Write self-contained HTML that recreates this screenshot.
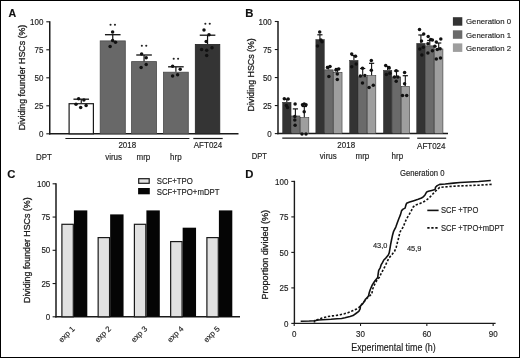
<!DOCTYPE html>
<html><head><meta charset="utf-8"><style>
html,body{margin:0;padding:0;background:#fff;}
body{width:520px;height:358px;overflow:hidden;}
svg{display:block;font-family:"Liberation Sans", sans-serif;filter:grayscale(1);}
</style></head><body>
<svg width="520" height="358" viewBox="0 0 520 358">
<rect x="0" y="0" width="520" height="358" fill="#fff"/>
<text transform="translate(8.60,17.00) scale(1,1.0)" font-size="10.6" text-anchor="start" font-weight="bold" fill="#111" stroke="#111" stroke-width="0.15" >A</text>
<line x1="49.75" y1="21.20" x2="49.75" y2="134.40" stroke="#1a1a1a" stroke-width="1.5" />
<line x1="49.00" y1="133.80" x2="238.50" y2="133.80" stroke="#1a1a1a" stroke-width="1.5" />
<line x1="46.30" y1="133.80" x2="49.75" y2="133.80" stroke="#1a1a1a" stroke-width="1.1" />
<text transform="translate(43.40,136.90) scale(1,1.08)" font-size="8" text-anchor="end" font-weight="normal" fill="#1e1e1e" stroke="#1e1e1e" stroke-width="0.15" >0</text>
<line x1="46.30" y1="105.80" x2="49.75" y2="105.80" stroke="#1a1a1a" stroke-width="1.1" />
<text transform="translate(43.40,108.90) scale(1,1.08)" font-size="8" text-anchor="end" font-weight="normal" fill="#1e1e1e" stroke="#1e1e1e" stroke-width="0.15" >25</text>
<line x1="46.30" y1="77.80" x2="49.75" y2="77.80" stroke="#1a1a1a" stroke-width="1.1" />
<text transform="translate(43.40,80.90) scale(1,1.08)" font-size="8" text-anchor="end" font-weight="normal" fill="#1e1e1e" stroke="#1e1e1e" stroke-width="0.15" >50</text>
<line x1="46.30" y1="49.80" x2="49.75" y2="49.80" stroke="#1a1a1a" stroke-width="1.1" />
<text transform="translate(43.40,52.90) scale(1,1.08)" font-size="8" text-anchor="end" font-weight="normal" fill="#1e1e1e" stroke="#1e1e1e" stroke-width="0.15" >75</text>
<line x1="46.30" y1="21.80" x2="49.75" y2="21.80" stroke="#1a1a1a" stroke-width="1.1" />
<text transform="translate(43.40,24.90) scale(1,1.08)" font-size="8" text-anchor="end" font-weight="normal" fill="#1e1e1e" stroke="#1e1e1e" stroke-width="0.15" >100</text>
<text transform="translate(24.60,77.50) scale(1,1.08) rotate(-90)" font-size="8.2" text-anchor="middle" font-weight="normal" fill="#1e1e1e" stroke="#1e1e1e" stroke-width="0.3" >Dividing founder HSCs (%)</text>
<rect x="69.10" y="103.70" width="24.30" height="30.10" fill="#ffffff" stroke="#1a1a1a" stroke-width="1.2"/>
<line x1="81.25" y1="103.10" x2="81.25" y2="99.20" stroke="#111" stroke-width="1.2" />
<line x1="73.45" y1="99.20" x2="89.05" y2="99.20" stroke="#111" stroke-width="1.3" />
<rect x="100.20" y="40.90" width="25.10" height="92.90" fill="#686868" stroke="#4a4a4a" stroke-width="0.8"/>
<line x1="112.75" y1="40.50" x2="112.75" y2="34.70" stroke="#111" stroke-width="1.2" />
<line x1="104.95" y1="34.70" x2="120.55" y2="34.70" stroke="#111" stroke-width="1.3" />
<rect x="131.60" y="61.60" width="24.90" height="72.20" fill="#686868" stroke="#4a4a4a" stroke-width="0.8"/>
<line x1="144.05" y1="61.20" x2="144.05" y2="55.00" stroke="#111" stroke-width="1.2" />
<line x1="136.25" y1="55.00" x2="151.85" y2="55.00" stroke="#111" stroke-width="1.3" />
<rect x="163.50" y="72.20" width="24.80" height="61.60" fill="#686868" stroke="#4a4a4a" stroke-width="0.8"/>
<line x1="175.90" y1="71.80" x2="175.90" y2="66.80" stroke="#111" stroke-width="1.2" />
<line x1="168.10" y1="66.80" x2="183.70" y2="66.80" stroke="#111" stroke-width="1.3" />
<rect x="195.30" y="44.40" width="24.50" height="89.40" fill="#343434" stroke="#222" stroke-width="0.8"/>
<line x1="207.55" y1="44.00" x2="207.55" y2="35.20" stroke="#111" stroke-width="1.2" />
<line x1="199.75" y1="35.20" x2="215.35" y2="35.20" stroke="#111" stroke-width="1.3" />
<circle cx="78.60" cy="98.70" r="1.75" fill="#111"/>
<circle cx="83.90" cy="100.00" r="1.75" fill="#111"/>
<circle cx="76.00" cy="104.30" r="1.75" fill="#111"/>
<circle cx="86.10" cy="105.40" r="1.75" fill="#111"/>
<circle cx="80.70" cy="107.60" r="1.75" fill="#111"/>
<circle cx="112.60" cy="32.10" r="1.75" fill="#111"/>
<circle cx="112.60" cy="40.50" r="1.75" fill="#111"/>
<circle cx="115.50" cy="42.20" r="1.75" fill="#111"/>
<circle cx="110.10" cy="46.60" r="1.75" fill="#111"/>
<circle cx="141.60" cy="54.00" r="1.75" fill="#111"/>
<circle cx="146.20" cy="57.80" r="1.75" fill="#111"/>
<circle cx="146.20" cy="64.50" r="1.75" fill="#111"/>
<circle cx="141.10" cy="67.40" r="1.75" fill="#111"/>
<circle cx="172.60" cy="66.30" r="1.75" fill="#111"/>
<circle cx="180.20" cy="69.30" r="1.75" fill="#111"/>
<circle cx="177.60" cy="74.70" r="1.75" fill="#111"/>
<circle cx="172.60" cy="76.00" r="1.75" fill="#111"/>
<circle cx="204.00" cy="30.10" r="1.75" fill="#111"/>
<circle cx="209.00" cy="34.80" r="1.75" fill="#111"/>
<circle cx="206.20" cy="41.50" r="1.75" fill="#111"/>
<circle cx="201.60" cy="49.40" r="1.75" fill="#111"/>
<circle cx="206.70" cy="50.30" r="1.75" fill="#111"/>
<circle cx="212.00" cy="47.70" r="1.75" fill="#111"/>
<circle cx="206.70" cy="55.60" r="1.75" fill="#111"/>
<circle cx="110.55" cy="24.80" r="1.05" fill="#222"/>
<circle cx="114.95" cy="24.80" r="1.05" fill="#222"/>
<circle cx="141.85" cy="45.70" r="1.05" fill="#222"/>
<circle cx="146.25" cy="45.70" r="1.05" fill="#222"/>
<circle cx="173.70" cy="58.70" r="1.05" fill="#222"/>
<circle cx="178.10" cy="58.70" r="1.05" fill="#222"/>
<circle cx="205.35" cy="23.80" r="1.05" fill="#222"/>
<circle cx="209.75" cy="23.80" r="1.05" fill="#222"/>
<line x1="65.40" y1="138.50" x2="189.40" y2="138.50" stroke="#1a1a1a" stroke-width="1.2" />
<line x1="193.30" y1="138.50" x2="222.70" y2="138.50" stroke="#1a1a1a" stroke-width="1.2" />
<text transform="translate(127.30,147.80) scale(1,1.08)" font-size="8" text-anchor="middle" font-weight="normal" fill="#1e1e1e" stroke="#1e1e1e" stroke-width="0.15" >2018</text>
<text transform="translate(208.00,148.00) scale(1,1.08)" font-size="8" text-anchor="middle" font-weight="normal" fill="#1e1e1e" stroke="#1e1e1e" stroke-width="0.15" >AFT024</text>
<text transform="translate(36.10,159.70) scale(1,1.08)" font-size="7.9" text-anchor="start" font-weight="normal" fill="#1e1e1e" stroke="#1e1e1e" stroke-width="0.15" >DPT</text>
<text transform="translate(113.60,159.70) scale(1,1.08)" font-size="8" text-anchor="middle" font-weight="normal" fill="#1e1e1e" stroke="#1e1e1e" stroke-width="0.15" >virus</text>
<text transform="translate(143.40,159.70) scale(1,1.08)" font-size="8" text-anchor="middle" font-weight="normal" fill="#1e1e1e" stroke="#1e1e1e" stroke-width="0.15" >mrp</text>
<text transform="translate(175.80,159.70) scale(1,1.08)" font-size="8" text-anchor="middle" font-weight="normal" fill="#1e1e1e" stroke="#1e1e1e" stroke-width="0.15" >hrp</text>
<text transform="translate(245.20,17.10) scale(1,1.0)" font-size="11.3" text-anchor="start" font-weight="bold" fill="#111" stroke="#111" stroke-width="0.15" >B</text>
<line x1="278.00" y1="20.90" x2="278.00" y2="134.20" stroke="#1a1a1a" stroke-width="1.5" />
<line x1="277.25" y1="133.60" x2="448.00" y2="133.60" stroke="#1a1a1a" stroke-width="1.5" />
<line x1="274.80" y1="133.60" x2="278.00" y2="133.60" stroke="#1a1a1a" stroke-width="1.1" />
<text transform="translate(271.80,136.70) scale(1,1.08)" font-size="8" text-anchor="end" font-weight="normal" fill="#1e1e1e" stroke="#1e1e1e" stroke-width="0.15" >0</text>
<line x1="274.80" y1="105.57" x2="278.00" y2="105.57" stroke="#1a1a1a" stroke-width="1.1" />
<text transform="translate(271.80,108.67) scale(1,1.08)" font-size="8" text-anchor="end" font-weight="normal" fill="#1e1e1e" stroke="#1e1e1e" stroke-width="0.15" >25</text>
<line x1="274.80" y1="77.55" x2="278.00" y2="77.55" stroke="#1a1a1a" stroke-width="1.1" />
<text transform="translate(271.80,80.65) scale(1,1.08)" font-size="8" text-anchor="end" font-weight="normal" fill="#1e1e1e" stroke="#1e1e1e" stroke-width="0.15" >50</text>
<line x1="274.80" y1="49.52" x2="278.00" y2="49.52" stroke="#1a1a1a" stroke-width="1.1" />
<text transform="translate(271.80,52.62) scale(1,1.08)" font-size="8" text-anchor="end" font-weight="normal" fill="#1e1e1e" stroke="#1e1e1e" stroke-width="0.15" >75</text>
<line x1="274.80" y1="21.50" x2="278.00" y2="21.50" stroke="#1a1a1a" stroke-width="1.1" />
<text transform="translate(271.80,24.60) scale(1,1.08)" font-size="8" text-anchor="end" font-weight="normal" fill="#1e1e1e" stroke="#1e1e1e" stroke-width="0.15" >100</text>
<text transform="translate(254.00,74.80) scale(1,1.08) rotate(-90)" font-size="8.2" text-anchor="middle" font-weight="normal" fill="#1e1e1e" stroke="#1e1e1e" stroke-width="0.3" >Dividing HSCs (%)</text>
<rect x="282.65" y="102.25" width="8.40" height="31.35" fill="#333333" stroke="#262626" stroke-width="0.5"/>
<rect x="291.55" y="115.95" width="8.40" height="17.65" fill="#6a6a6a" stroke="#262626" stroke-width="0.5"/>
<rect x="300.45" y="117.45" width="8.40" height="16.15" fill="#9e9e9e" stroke="#262626" stroke-width="0.5"/>
<rect x="315.85" y="39.55" width="8.40" height="94.05" fill="#333333" stroke="#262626" stroke-width="0.5"/>
<rect x="324.75" y="69.85" width="8.40" height="63.75" fill="#6a6a6a" stroke="#262626" stroke-width="0.5"/>
<rect x="333.65" y="72.25" width="8.40" height="61.35" fill="#9e9e9e" stroke="#262626" stroke-width="0.5"/>
<rect x="349.65" y="60.35" width="8.40" height="73.25" fill="#333333" stroke="#262626" stroke-width="0.5"/>
<rect x="358.55" y="76.85" width="8.40" height="56.75" fill="#6a6a6a" stroke="#262626" stroke-width="0.5"/>
<rect x="367.45" y="75.45" width="8.40" height="58.15" fill="#9e9e9e" stroke="#262626" stroke-width="0.5"/>
<rect x="383.45" y="70.35" width="8.40" height="63.25" fill="#333333" stroke="#262626" stroke-width="0.5"/>
<rect x="392.35" y="76.95" width="8.40" height="56.65" fill="#6a6a6a" stroke="#262626" stroke-width="0.5"/>
<rect x="401.25" y="86.25" width="8.40" height="47.35" fill="#9e9e9e" stroke="#262626" stroke-width="0.5"/>
<rect x="416.75" y="43.35" width="8.40" height="90.25" fill="#333333" stroke="#262626" stroke-width="0.5"/>
<rect x="425.65" y="45.85" width="8.40" height="87.75" fill="#6a6a6a" stroke="#262626" stroke-width="0.5"/>
<rect x="434.55" y="48.95" width="8.40" height="84.65" fill="#9e9e9e" stroke="#262626" stroke-width="0.5"/>
<line x1="286.80" y1="102.00" x2="286.80" y2="99.30" stroke="#111" stroke-width="1.1" />
<line x1="284.20" y1="99.30" x2="289.40" y2="99.30" stroke="#111" stroke-width="1.2" />
<line x1="295.40" y1="115.70" x2="295.40" y2="108.90" stroke="#111" stroke-width="1.1" />
<line x1="292.80" y1="108.90" x2="298.00" y2="108.90" stroke="#111" stroke-width="1.2" />
<line x1="304.30" y1="117.20" x2="304.30" y2="106.50" stroke="#111" stroke-width="1.1" />
<line x1="301.70" y1="106.50" x2="306.90" y2="106.50" stroke="#111" stroke-width="1.2" />
<line x1="319.90" y1="39.30" x2="319.90" y2="34.80" stroke="#111" stroke-width="1.1" />
<line x1="317.30" y1="34.80" x2="322.50" y2="34.80" stroke="#111" stroke-width="1.2" />
<line x1="328.70" y1="69.60" x2="328.70" y2="66.50" stroke="#111" stroke-width="1.1" />
<line x1="326.10" y1="66.50" x2="331.30" y2="66.50" stroke="#111" stroke-width="1.2" />
<line x1="337.60" y1="72.00" x2="337.60" y2="68.50" stroke="#111" stroke-width="1.1" />
<line x1="335.00" y1="68.50" x2="340.20" y2="68.50" stroke="#111" stroke-width="1.2" />
<line x1="353.90" y1="60.10" x2="353.90" y2="55.50" stroke="#111" stroke-width="1.1" />
<line x1="351.30" y1="55.50" x2="356.50" y2="55.50" stroke="#111" stroke-width="1.2" />
<line x1="362.70" y1="76.60" x2="362.70" y2="68.50" stroke="#111" stroke-width="1.1" />
<line x1="360.10" y1="68.50" x2="365.30" y2="68.50" stroke="#111" stroke-width="1.2" />
<line x1="371.60" y1="75.20" x2="371.60" y2="63.30" stroke="#111" stroke-width="1.1" />
<line x1="369.00" y1="63.30" x2="374.20" y2="63.30" stroke="#111" stroke-width="1.2" />
<line x1="387.60" y1="70.10" x2="387.60" y2="66.50" stroke="#111" stroke-width="1.1" />
<line x1="385.00" y1="66.50" x2="390.20" y2="66.50" stroke="#111" stroke-width="1.2" />
<line x1="396.50" y1="76.70" x2="396.50" y2="71.00" stroke="#111" stroke-width="1.1" />
<line x1="393.90" y1="71.00" x2="399.10" y2="71.00" stroke="#111" stroke-width="1.2" />
<line x1="405.30" y1="86.00" x2="405.30" y2="75.70" stroke="#111" stroke-width="1.1" />
<line x1="402.70" y1="75.70" x2="407.90" y2="75.70" stroke="#111" stroke-width="1.2" />
<line x1="420.90" y1="43.10" x2="420.90" y2="35.00" stroke="#111" stroke-width="1.1" />
<line x1="418.30" y1="35.00" x2="423.50" y2="35.00" stroke="#111" stroke-width="1.2" />
<line x1="429.80" y1="45.60" x2="429.80" y2="40.50" stroke="#111" stroke-width="1.1" />
<line x1="427.20" y1="40.50" x2="432.40" y2="40.50" stroke="#111" stroke-width="1.2" />
<line x1="438.70" y1="48.70" x2="438.70" y2="43.00" stroke="#111" stroke-width="1.1" />
<line x1="436.10" y1="43.00" x2="441.30" y2="43.00" stroke="#111" stroke-width="1.2" />
<circle cx="284.30" cy="98.70" r="1.75" fill="#111"/>
<circle cx="288.10" cy="99.10" r="1.75" fill="#111"/>
<circle cx="286.40" cy="105.40" r="1.75" fill="#111"/>
<circle cx="287.50" cy="107.50" r="1.75" fill="#111"/>
<circle cx="295.10" cy="104.00" r="1.75" fill="#111"/>
<circle cx="294.80" cy="116.60" r="1.75" fill="#111"/>
<circle cx="294.80" cy="120.00" r="1.75" fill="#111"/>
<circle cx="295.10" cy="125.20" r="1.75" fill="#111"/>
<circle cx="302.50" cy="104.70" r="1.75" fill="#111"/>
<circle cx="306.00" cy="104.70" r="1.75" fill="#111"/>
<circle cx="304.20" cy="104.00" r="1.75" fill="#111"/>
<circle cx="304.20" cy="111.70" r="1.75" fill="#111"/>
<circle cx="302.00" cy="134.00" r="1.75" fill="#111"/>
<circle cx="306.00" cy="134.00" r="1.75" fill="#111"/>
<circle cx="319.70" cy="32.10" r="1.75" fill="#111"/>
<circle cx="320.90" cy="40.10" r="1.75" fill="#111"/>
<circle cx="322.00" cy="41.80" r="1.75" fill="#111"/>
<circle cx="317.50" cy="46.00" r="1.75" fill="#111"/>
<circle cx="327.50" cy="67.50" r="1.75" fill="#111"/>
<circle cx="330.00" cy="66.50" r="1.75" fill="#111"/>
<circle cx="328.90" cy="76.60" r="1.75" fill="#111"/>
<circle cx="335.90" cy="69.90" r="1.75" fill="#111"/>
<circle cx="338.70" cy="68.90" r="1.75" fill="#111"/>
<circle cx="337.30" cy="74.00" r="1.75" fill="#111"/>
<circle cx="337.30" cy="79.40" r="1.75" fill="#111"/>
<circle cx="351.70" cy="53.90" r="1.75" fill="#111"/>
<circle cx="355.50" cy="56.30" r="1.75" fill="#111"/>
<circle cx="351.70" cy="66.80" r="1.75" fill="#111"/>
<circle cx="356.20" cy="64.00" r="1.75" fill="#111"/>
<circle cx="362.50" cy="68.20" r="1.75" fill="#111"/>
<circle cx="360.40" cy="75.90" r="1.75" fill="#111"/>
<circle cx="364.90" cy="75.50" r="1.75" fill="#111"/>
<circle cx="362.50" cy="83.10" r="1.75" fill="#111"/>
<circle cx="371.30" cy="60.50" r="1.75" fill="#111"/>
<circle cx="371.30" cy="70.30" r="1.75" fill="#111"/>
<circle cx="369.10" cy="87.50" r="1.75" fill="#111"/>
<circle cx="373.30" cy="85.20" r="1.75" fill="#111"/>
<circle cx="385.70" cy="65.50" r="1.75" fill="#111"/>
<circle cx="389.20" cy="67.90" r="1.75" fill="#111"/>
<circle cx="386.40" cy="74.60" r="1.75" fill="#111"/>
<circle cx="389.90" cy="73.20" r="1.75" fill="#111"/>
<circle cx="396.20" cy="70.70" r="1.75" fill="#111"/>
<circle cx="394.50" cy="77.10" r="1.75" fill="#111"/>
<circle cx="397.90" cy="77.10" r="1.75" fill="#111"/>
<circle cx="396.20" cy="81.30" r="1.75" fill="#111"/>
<circle cx="404.60" cy="72.50" r="1.75" fill="#111"/>
<circle cx="404.60" cy="83.70" r="1.75" fill="#111"/>
<circle cx="402.50" cy="95.60" r="1.75" fill="#111"/>
<circle cx="406.70" cy="95.60" r="1.75" fill="#111"/>
<circle cx="419.50" cy="29.50" r="1.75" fill="#111"/>
<circle cx="423.70" cy="34.00" r="1.75" fill="#111"/>
<circle cx="421.50" cy="41.00" r="1.75" fill="#111"/>
<circle cx="419.80" cy="49.10" r="1.75" fill="#111"/>
<circle cx="423.30" cy="47.30" r="1.75" fill="#111"/>
<circle cx="421.90" cy="55.00" r="1.75" fill="#111"/>
<circle cx="428.20" cy="36.50" r="1.75" fill="#111"/>
<circle cx="430.70" cy="39.60" r="1.75" fill="#111"/>
<circle cx="432.40" cy="39.90" r="1.75" fill="#111"/>
<circle cx="427.90" cy="43.80" r="1.75" fill="#111"/>
<circle cx="432.40" cy="50.80" r="1.75" fill="#111"/>
<circle cx="427.90" cy="52.90" r="1.75" fill="#111"/>
<circle cx="440.80" cy="38.90" r="1.75" fill="#111"/>
<circle cx="436.30" cy="42.10" r="1.75" fill="#111"/>
<circle cx="434.90" cy="46.30" r="1.75" fill="#111"/>
<circle cx="437.30" cy="49.40" r="1.75" fill="#111"/>
<circle cx="440.10" cy="48.70" r="1.75" fill="#111"/>
<circle cx="436.30" cy="58.90" r="1.75" fill="#111"/>
<circle cx="440.50" cy="58.00" r="1.75" fill="#111"/>
<line x1="282.30" y1="138.20" x2="409.60" y2="138.20" stroke="#1a1a1a" stroke-width="1.2" />
<line x1="417.20" y1="138.20" x2="446.20" y2="138.20" stroke="#1a1a1a" stroke-width="1.2" />
<text transform="translate(346.20,148.30) scale(1,1.08)" font-size="8" text-anchor="middle" font-weight="normal" fill="#1e1e1e" stroke="#1e1e1e" stroke-width="0.15" >2018</text>
<text transform="translate(431.30,148.50) scale(1,1.08)" font-size="8" text-anchor="middle" font-weight="normal" fill="#1e1e1e" stroke="#1e1e1e" stroke-width="0.15" >AFT024</text>
<text transform="translate(251.80,159.00) scale(1,1.08)" font-size="7.6" text-anchor="start" font-weight="normal" fill="#1e1e1e" stroke="#1e1e1e" stroke-width="0.15" >DPT</text>
<text transform="translate(328.30,159.30) scale(1,1.08)" font-size="8" text-anchor="middle" font-weight="normal" fill="#1e1e1e" stroke="#1e1e1e" stroke-width="0.15" >virus</text>
<text transform="translate(362.40,159.30) scale(1,1.08)" font-size="8" text-anchor="middle" font-weight="normal" fill="#1e1e1e" stroke="#1e1e1e" stroke-width="0.15" >mrp</text>
<text transform="translate(397.30,159.30) scale(1,1.08)" font-size="8" text-anchor="middle" font-weight="normal" fill="#1e1e1e" stroke="#1e1e1e" stroke-width="0.15" >hrp</text>
<rect x="452.90" y="17.20" width="9.40" height="8.50" fill="#333333"/>
<text transform="translate(466.00,24.40) scale(1,1.03)" font-size="7.8" text-anchor="start" font-weight="normal" fill="#1e1e1e" stroke="#1e1e1e" stroke-width="0.15" >Generation 0</text>
<rect x="452.90" y="30.30" width="9.40" height="8.50" fill="#6a6a6a"/>
<text transform="translate(466.00,37.50) scale(1,1.03)" font-size="7.8" text-anchor="start" font-weight="normal" fill="#1e1e1e" stroke="#1e1e1e" stroke-width="0.15" >Generation 1</text>
<rect x="452.90" y="43.40" width="9.40" height="8.50" fill="#9e9e9e"/>
<text transform="translate(466.00,50.60) scale(1,1.03)" font-size="7.8" text-anchor="start" font-weight="normal" fill="#1e1e1e" stroke="#1e1e1e" stroke-width="0.15" >Generation 2</text>
<text transform="translate(7.35,177.80) scale(1,1.0)" font-size="11.3" text-anchor="start" font-weight="bold" fill="#111" stroke="#111" stroke-width="0.15" >C</text>
<line x1="56.00" y1="183.20" x2="56.00" y2="317.40" stroke="#1a1a1a" stroke-width="1.5" />
<line x1="55.25" y1="316.80" x2="240.00" y2="316.80" stroke="#1a1a1a" stroke-width="1.5" />
<line x1="52.60" y1="316.80" x2="56.00" y2="316.80" stroke="#1a1a1a" stroke-width="1.1" />
<text transform="translate(50.30,319.90) scale(1,1.08)" font-size="8" text-anchor="end" font-weight="normal" fill="#1e1e1e" stroke="#1e1e1e" stroke-width="0.15" >0</text>
<line x1="52.60" y1="283.55" x2="56.00" y2="283.55" stroke="#1a1a1a" stroke-width="1.1" />
<text transform="translate(50.30,286.65) scale(1,1.08)" font-size="8" text-anchor="end" font-weight="normal" fill="#1e1e1e" stroke="#1e1e1e" stroke-width="0.15" >25</text>
<line x1="52.60" y1="250.30" x2="56.00" y2="250.30" stroke="#1a1a1a" stroke-width="1.1" />
<text transform="translate(50.30,253.40) scale(1,1.08)" font-size="8" text-anchor="end" font-weight="normal" fill="#1e1e1e" stroke="#1e1e1e" stroke-width="0.15" >50</text>
<line x1="52.60" y1="217.05" x2="56.00" y2="217.05" stroke="#1a1a1a" stroke-width="1.1" />
<text transform="translate(50.30,220.15) scale(1,1.08)" font-size="8" text-anchor="end" font-weight="normal" fill="#1e1e1e" stroke="#1e1e1e" stroke-width="0.15" >75</text>
<line x1="52.60" y1="183.80" x2="56.00" y2="183.80" stroke="#1a1a1a" stroke-width="1.1" />
<text transform="translate(50.30,186.90) scale(1,1.08)" font-size="8" text-anchor="end" font-weight="normal" fill="#1e1e1e" stroke="#1e1e1e" stroke-width="0.15" >100</text>
<text transform="translate(30.40,250.20) scale(1,1.08) rotate(-90)" font-size="8.2" text-anchor="middle" font-weight="normal" fill="#1e1e1e" stroke="#1e1e1e" stroke-width="0.3" >Dividing founder HSCs (%)</text>
<rect x="61.90" y="224.30" width="11.40" height="92.50" fill="#e1e1e1" stroke="#1a1a1a" stroke-width="1.2"/>
<rect x="73.90" y="210.40" width="13.40" height="106.40" fill="#050505"/>
<text transform="translate(75.30,329.30) scale(1,1.0) rotate(-45)" font-size="7.9" text-anchor="end" font-weight="normal" fill="#1e1e1e" stroke="#1e1e1e" stroke-width="0.15" >exp 1</text>
<rect x="98.15" y="237.60" width="11.40" height="79.20" fill="#e1e1e1" stroke="#1a1a1a" stroke-width="1.2"/>
<rect x="110.15" y="214.39" width="13.40" height="102.41" fill="#050505"/>
<text transform="translate(111.55,329.30) scale(1,1.0) rotate(-45)" font-size="7.9" text-anchor="end" font-weight="normal" fill="#1e1e1e" stroke="#1e1e1e" stroke-width="0.15" >exp 2</text>
<rect x="134.40" y="224.30" width="11.40" height="92.50" fill="#e1e1e1" stroke="#1a1a1a" stroke-width="1.2"/>
<rect x="146.40" y="210.40" width="13.40" height="106.40" fill="#050505"/>
<text transform="translate(147.80,329.30) scale(1,1.0) rotate(-45)" font-size="7.9" text-anchor="end" font-weight="normal" fill="#1e1e1e" stroke="#1e1e1e" stroke-width="0.15" >exp 3</text>
<rect x="170.65" y="241.59" width="11.40" height="75.21" fill="#e1e1e1" stroke="#1a1a1a" stroke-width="1.2"/>
<rect x="182.65" y="227.69" width="13.40" height="89.11" fill="#050505"/>
<text transform="translate(184.05,329.30) scale(1,1.0) rotate(-45)" font-size="7.9" text-anchor="end" font-weight="normal" fill="#1e1e1e" stroke="#1e1e1e" stroke-width="0.15" >exp 4</text>
<rect x="206.90" y="237.60" width="11.40" height="79.20" fill="#e1e1e1" stroke="#1a1a1a" stroke-width="1.2"/>
<rect x="218.90" y="210.40" width="13.40" height="106.40" fill="#050505"/>
<text transform="translate(220.30,329.30) scale(1,1.0) rotate(-45)" font-size="7.9" text-anchor="end" font-weight="normal" fill="#1e1e1e" stroke="#1e1e1e" stroke-width="0.15" >exp 5</text>
<rect x="138.70" y="178.70" width="10.50" height="4.60" fill="#e1e1e1" stroke="#1a1a1a" stroke-width="1.2"/>
<rect x="138.10" y="188.00" width="11.70" height="6.30" fill="#050505"/>
<text transform="translate(156.70,183.80) scale(1,1.08)" font-size="7.8" text-anchor="start" font-weight="normal" fill="#1e1e1e" stroke="#1e1e1e" stroke-width="0.15" >SCF+TPO</text>
<text transform="translate(156.70,194.80) scale(1,1.08)" font-size="7.8" text-anchor="start" font-weight="normal" fill="#1e1e1e" stroke="#1e1e1e" stroke-width="0.15" >SCF+TPO+mDPT</text>
<text transform="translate(245.20,178.10) scale(1,1.0)" font-size="11.3" text-anchor="start" font-weight="bold" fill="#111" stroke="#111" stroke-width="0.15" >D</text>
<line x1="294.40" y1="180.80" x2="294.40" y2="324.00" stroke="#1a1a1a" stroke-width="1.4" />
<line x1="293.70" y1="323.40" x2="495.60" y2="323.40" stroke="#1a1a1a" stroke-width="1.4" />
<line x1="291.30" y1="323.40" x2="294.40" y2="323.40" stroke="#1a1a1a" stroke-width="1.1" />
<text transform="translate(288.40,326.50) scale(1,1.08)" font-size="8" text-anchor="end" font-weight="normal" fill="#1e1e1e" stroke="#1e1e1e" stroke-width="0.15" >0</text>
<line x1="291.30" y1="287.90" x2="294.40" y2="287.90" stroke="#1a1a1a" stroke-width="1.1" />
<text transform="translate(288.40,291.00) scale(1,1.08)" font-size="8" text-anchor="end" font-weight="normal" fill="#1e1e1e" stroke="#1e1e1e" stroke-width="0.15" >25</text>
<line x1="291.30" y1="252.40" x2="294.40" y2="252.40" stroke="#1a1a1a" stroke-width="1.1" />
<text transform="translate(288.40,255.50) scale(1,1.08)" font-size="8" text-anchor="end" font-weight="normal" fill="#1e1e1e" stroke="#1e1e1e" stroke-width="0.15" >50</text>
<line x1="291.30" y1="216.90" x2="294.40" y2="216.90" stroke="#1a1a1a" stroke-width="1.1" />
<text transform="translate(288.40,220.00) scale(1,1.08)" font-size="8" text-anchor="end" font-weight="normal" fill="#1e1e1e" stroke="#1e1e1e" stroke-width="0.15" >75</text>
<line x1="291.30" y1="181.40" x2="294.40" y2="181.40" stroke="#1a1a1a" stroke-width="1.1" />
<text transform="translate(288.40,184.50) scale(1,1.08)" font-size="8" text-anchor="end" font-weight="normal" fill="#1e1e1e" stroke="#1e1e1e" stroke-width="0.15" >100</text>
<line x1="294.20" y1="323.40" x2="294.20" y2="326.00" stroke="#1a1a1a" stroke-width="1.1" />
<text transform="translate(294.20,336.70) scale(1,1.08)" font-size="8" text-anchor="middle" font-weight="normal" fill="#1e1e1e" stroke="#1e1e1e" stroke-width="0.15" >0</text>
<line x1="360.52" y1="323.40" x2="360.52" y2="326.00" stroke="#1a1a1a" stroke-width="1.1" />
<text transform="translate(360.52,336.70) scale(1,1.08)" font-size="8" text-anchor="middle" font-weight="normal" fill="#1e1e1e" stroke="#1e1e1e" stroke-width="0.15" >30</text>
<line x1="426.84" y1="323.40" x2="426.84" y2="326.00" stroke="#1a1a1a" stroke-width="1.1" />
<text transform="translate(426.84,336.70) scale(1,1.08)" font-size="8" text-anchor="middle" font-weight="normal" fill="#1e1e1e" stroke="#1e1e1e" stroke-width="0.15" >60</text>
<line x1="493.15" y1="323.40" x2="493.15" y2="326.00" stroke="#1a1a1a" stroke-width="1.1" />
<text transform="translate(493.15,336.70) scale(1,1.08)" font-size="8" text-anchor="middle" font-weight="normal" fill="#1e1e1e" stroke="#1e1e1e" stroke-width="0.15" >90</text>
<text transform="translate(393.50,350.70) scale(1,1.2)" font-size="8.9" text-anchor="middle" font-weight="normal" fill="#1e1e1e" stroke="#1e1e1e" stroke-width="0.15" >Experimental time (h)</text>
<text transform="translate(268.40,254.70) scale(1,1.08) rotate(-90)" font-size="8.4" text-anchor="middle" font-weight="normal" fill="#1e1e1e" stroke="#1e1e1e" stroke-width="0.3" >Proportion divided (%)</text>
<text transform="translate(400.00,175.70) scale(1,1.08)" font-size="7.7" text-anchor="start" font-weight="normal" fill="#1e1e1e" stroke="#1e1e1e" stroke-width="0.15" >Generation 0</text>
<polyline points="300.7,321.3 309.3,321.0 314.5,320.7 318.5,320.0 322.3,319.7 331.0,319.3 337.0,318.8 341.6,318.5 345.0,317.8 350.0,316.5 353.0,315.6 355.9,313.5 358.8,311.4 360.1,308.9 360.5,305.9 363.0,303.4 364.7,300.9 365.5,299.2 367.2,297.5 368.5,295.9 369.3,292.5 370.4,289.3 372.3,284.9 374.8,281.0 377.7,277.4 378.2,273.7 378.7,270.3 380.2,267.8 381.1,264.9 382.6,262.4 383.8,260.0 385.8,258.1 388.3,255.0 389.2,252.9 389.9,248.8 390.6,244.6 391.4,240.5 392.5,235.3 393.5,231.7 394.5,229.7 395.8,227.1 397.5,222.2 399.0,218.2 400.5,214.6 401.6,210.6 403.1,209.1 405.1,208.1 405.9,205.1 406.6,203.3 409.6,202.1 413.1,200.9 418.2,199.2 421.5,198.0 423.6,196.6 425.0,194.9 426.7,191.9 428.4,191.3 431.7,190.4 435.1,189.4 435.5,187.3 437.2,185.6 439.7,184.4 445.2,184.0 453.5,183.1 460.0,182.5 478.7,181.5 490.8,180.5" fill="none" stroke="#111" stroke-width="1.6" stroke-linejoin="round"/>
<polyline points="314.5,322.6 314.5,320.6 318.0,319.4 322.0,318.0 327.6,316.6 332.5,315.9 336.0,315.5 340.2,314.7 344.4,313.8 348.4,312.6 352.5,310.8 356.7,308.9 358.8,307.6 361.0,305.3 364.0,301.6 367.0,298.2 368.9,296.7 371.8,293.8 372.8,288.8 374.8,284.0 376.7,280.5 379.2,277.6 381.1,273.7 383.1,269.8 385.0,266.4 387.0,262.0 388.9,258.1 392.0,254.5 394.5,251.4 396.1,247.8 397.1,243.6 398.2,239.5 399.2,235.3 400.2,231.7 401.8,229.1 403.5,226.5 404.6,223.2 406.6,218.7 409.1,214.6 411.1,211.1 413.1,207.1 415.1,205.1 419.2,203.8 423.2,202.0 425.5,200.8 428.4,198.5 431.7,195.3 434.3,192.4 436.4,190.3 437.6,189.2 439.7,187.3 445.2,186.9 453.5,186.2 460.0,185.9 478.7,185.2 492.5,184.3" fill="none" stroke="#111" stroke-width="1.6" stroke-dasharray="2.3 1.7" stroke-linejoin="round"/>
<text transform="translate(373.00,248.00) scale(1,1.08)" font-size="7.4" text-anchor="start" font-weight="normal" fill="#1e1e1e" stroke="#1e1e1e" stroke-width="0.15" >43,0</text>
<text transform="translate(407.00,251.00) scale(1,1.08)" font-size="7.4" text-anchor="start" font-weight="normal" fill="#1e1e1e" stroke="#1e1e1e" stroke-width="0.15" >45,9</text>
<line x1="427.30" y1="210.40" x2="438.60" y2="210.40" stroke="#111" stroke-width="1.6" />
<line x1="427.30" y1="227.90" x2="438.60" y2="227.90" stroke="#111" stroke-width="1.6" stroke-dasharray="2.3 1.7"/>
<text transform="translate(441.00,212.80) scale(1,1.08)" font-size="7.6" text-anchor="start" font-weight="normal" fill="#1e1e1e" stroke="#1e1e1e" stroke-width="0.15" >SCF +TPO</text>
<text transform="translate(441.00,231.00) scale(1,1.08)" font-size="7.6" text-anchor="start" font-weight="normal" fill="#1e1e1e" stroke="#1e1e1e" stroke-width="0.15" >SCF +TPO+mDPT</text>
<rect x="0.5" y="0.5" width="519" height="357" fill="none" stroke="#000" stroke-width="1"/>
</svg>
</body></html>
